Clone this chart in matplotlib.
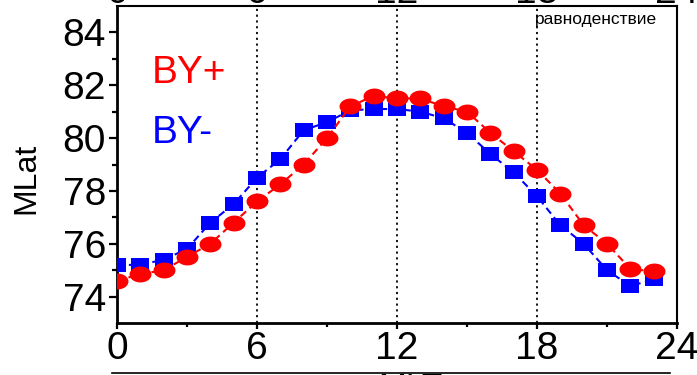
import numpy as np
import matplotlib
matplotlib.use("Agg")
import matplotlib.pyplot as plt
from matplotlib.path import Path
from matplotlib.lines import Line2D
from matplotlib.transforms import blended_transform_factory

plt.rcParams['font.family'] = ['Liberation Sans', 'DejaVu Sans']

# Magnetic local time (hours) and auroral oval latitude for each IMF By sign
mlt = list(range(24))
mlat_by_pos = [74.6, 74.85, 75.0, 75.5, 76.0, 76.8, 77.6, 78.25, 79.0, 80.0,
               81.2, 81.6, 81.5, 81.5, 81.2, 81.0, 80.2, 79.5, 78.8, 77.9,
               76.7, 76.0, 75.05, 74.95]
mlat_by_neg = [75.2, 75.2, 75.4, 75.8, 76.8, 77.5, 78.5, 79.2, 80.3, 80.6,
               81.05, 81.1, 81.1, 81.0, 80.75, 80.2, 79.4, 78.7, 77.8, 76.7,
               76.0, 75.0, 74.4, 74.65]

xticks = [0, 6, 12, 18, 24]
yticks = [74, 76, 78, 80, 82, 84]
season_label = "равноденствие"

W, H = 697, 375
fig = plt.figure(figsize=(W / 100, H / 100), dpi=100)
ax = fig.add_axes([117 / W, (H - 323) / H, 560 / W, 317 / H])

# wide ellipse and wide rectangle markers
t = np.linspace(0, 2 * np.pi, 60)
ellipse = Path(np.column_stack([1.38 * np.cos(t), np.sin(t)]), closed=True)
rect = Path([(-1.27, -1), (1.27, -1), (1.27, 1), (-1.27, 1), (-1.27, -1)], closed=True)

for xv in [6, 12, 18]:
    ax.axvline(xv, color='black', lw=1.3, ls=(0, (1.2, 2.0)), zorder=1)

ax.plot(mlt, mlat_by_neg, color='blue', lw=1.5, ls=(0, (3.5, 2.2)),
        marker=rect, markersize=13, markerfacecolor='blue',
        markeredgecolor='blue', markeredgewidth=0, zorder=3)
ax.plot(mlt, mlat_by_pos, color='red', lw=1.5, ls=(0, (3.5, 2.2)),
        marker=ellipse, markersize=15.8, markerfacecolor='red',
        markeredgecolor='red', markeredgewidth=0, zorder=4)

ax.set_xlim(0, 24)
ax.set_ylim(73, 85)
ax.set_xticks(xticks)
ax.set_xticks([3, 9, 15, 21], minor=True)
ax.set_yticks(yticks)
ax.set_yticks([75, 77, 79, 81, 83], minor=True)
ax.tick_params(axis='both', which='both', direction='out', top=False,
               right=False, labelsize=28, width=1.6, pad=2)
ax.tick_params(axis='y', which='major', length=6)
ax.tick_params(axis='y', which='minor', length=3.6)
ax.tick_params(axis='x', which='major', length=4)
ax.tick_params(axis='x', which='minor', length=3)
for side in ['left', 'bottom']:
    ax.spines[side].set_linewidth(2.0)
for side in ['top', 'right']:
    ax.spines[side].set_linewidth(1.5)

ax.set_ylabel("MLat", fontsize=23)
ax.yaxis.set_label_coords(-76 / 560, (323 - 178) / 317)

ax.text(1.5, 82.08, "BY+", color='red', fontsize=28, va='baseline', ha='left')
ax.text(1.5, 79.81, "BY-", color='blue', fontsize=28, va='baseline', ha='left')
ax.text(17.9, 84.3, season_label, fontsize=12.5, va='baseline', ha='left')

# tick labels of the panel above and the axis title of the panel below
trans = blended_transform_factory(ax.transData, fig.transFigure)
for xv in xticks:
    fig.text(xv, 1 - 3 / H, str(xv), transform=trans, fontsize=28,
             ha='center', va='baseline')
fig.add_artist(Line2D([112 / W, 670 / W], [(H - 373) / H] * 2,
                      color='black', lw=1.2, transform=fig.transFigure))
fig.text(410 / W, (H - 397) / H, "MLT", fontsize=24, ha='center', va='baseline')

fig.savefig("out.png", dpi=100)
